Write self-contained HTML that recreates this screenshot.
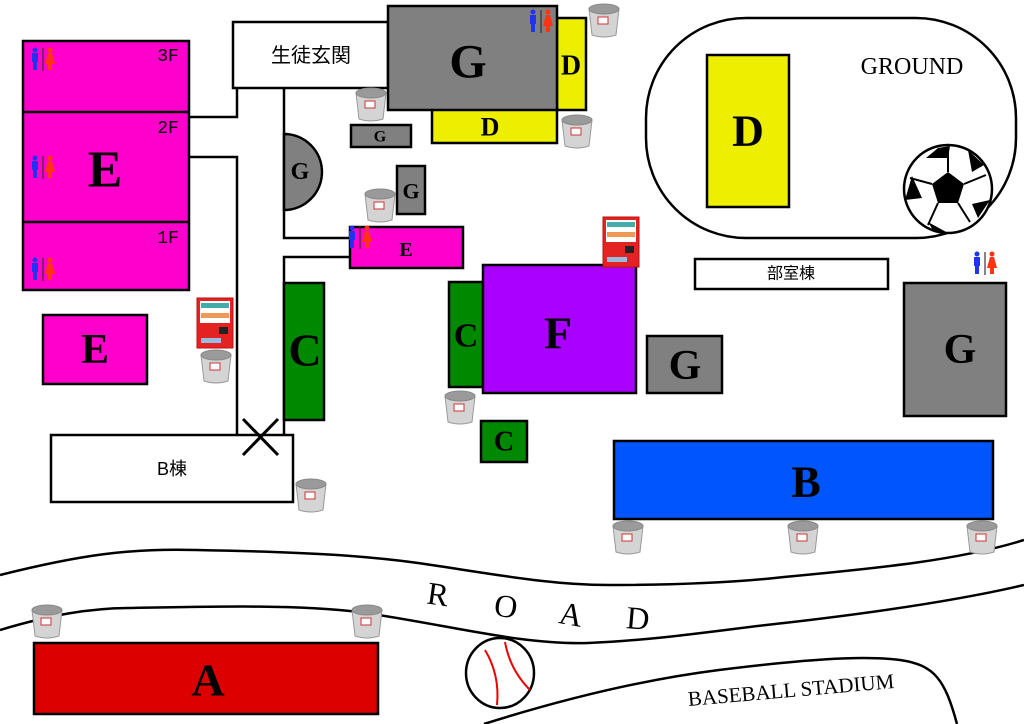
<!DOCTYPE html>
<html><head><meta charset="utf-8"><style>
html,body{margin:0;padding:0;background:#fff}
svg{display:block}
.L{font-family:"Liberation Serif",serif;font-weight:bold;text-anchor:middle;dominant-baseline:central;fill:#000}
.N{font-family:"Liberation Serif",serif;font-weight:normal;text-anchor:middle;dominant-baseline:central;fill:#000}
.J{font-family:"Liberation Sans","Noto Sans CJK JP",sans-serif;text-anchor:middle;dominant-baseline:central;fill:#000}
.M{font-family:"Liberation Mono",monospace;text-anchor:middle;dominant-baseline:central;fill:#000}
</style></head><body>
<svg width="1024" height="724" viewBox="0 0 1024 724" xmlns="http://www.w3.org/2000/svg">
<defs>
<g id="tc">
<path d="M-15,-12 L15,-12 L12,14 Q0,18 -12,14 Z" fill="#d4d4d4" stroke="#999" stroke-width="1"/>
<ellipse cx="0" cy="-12" rx="15" ry="5" fill="#9a9a9a" stroke="#888"/>
<rect x="-6" y="-4" width="10" height="7" fill="#fff" stroke="#c33" stroke-width="1"/>
</g>
<g id="wc">
<circle cx="-8" cy="-10" r="2.5" fill="#2233ee"/>
<rect x="-11" y="-7" width="6" height="9" fill="#2233ee"/>
<rect x="-10" y="2" width="4" height="8" fill="#2233ee"/>
<line x1="0" y1="-12" x2="0" y2="11" stroke="#333" stroke-width="1.2"/>
<circle cx="7" cy="-10" r="2.5" fill="#ff3311"/>
<path d="M5,-7 L9,-7 L12,4 L2,4 Z" fill="#ff3311"/>
<rect x="5" y="4" width="4" height="6" fill="#ff3311"/>
</g>
<g id="vm">
<rect x="0" y="0" width="36" height="50" fill="#e32222" stroke="#b11"/>
<rect x="3" y="3" width="30" height="22" fill="#fff"/>
<rect x="4" y="5" width="28" height="5" fill="#4aa"/>
<rect x="4" y="15" width="28" height="5" fill="#e95"/>
<rect x="22" y="29" width="9" height="7" fill="#222"/>
<rect x="4" y="40" width="20" height="5" fill="#9bd"/>
</g>
</defs>
<g stroke="#000" stroke-width="2.5" fill="none">
<polyline points="189,117 237,117 237,88"/>
<polyline points="189,157 237,157 237,435"/>
<polyline points="284,88 284,238 350,238"/>
<polyline points="350,257 284,257 284,435"/>
<path d="M0,575 C80,555 130,548 196,550 C300,552 360,555 418,563 C500,575 550,585 608,585 C680,585 740,582 784,577 C880,568 960,560 1024,540"/>
<path d="M0,630 C50,615 90,608 131,608 C230,606 300,605 359,612 C450,625 520,645 588,643 C660,640 720,630 784,623 C880,612 960,600 1024,585"/>
<path d="M484,724 C560,700 640,680 719,670 C800,660 860,655 900,660 C935,665 945,680 957,724"/>
<rect x="646" y="18" width="370" height="220" rx="100" ry="100"/>
</g>
<g stroke="#000" stroke-width="2.5">
<rect x="23" y="41" width="166" height="249" fill="#ff00cc"/>
<line x1="23" y1="112" x2="189" y2="112"/>
<line x1="23" y1="222" x2="189" y2="222"/>
<rect x="233" y="22" width="155" height="66" fill="#fff"/>
<path d="M284,134 A38,38 0 0 1 284,210 Z" fill="#808080"/>
<rect x="557" y="18" width="29" height="92" fill="#eeee00"/>
<rect x="432" y="108" width="125" height="35" fill="#eeee00"/>
<rect x="388" y="6" width="169" height="104" fill="#808080"/>
<rect x="351" y="125" width="60" height="22" fill="#808080"/>
<rect x="397" y="166" width="28" height="48" fill="#808080"/>
<rect x="350" y="227" width="113" height="41" fill="#ff00cc"/>
<rect x="284" y="283" width="40" height="137" fill="#008800"/>
<rect x="449" y="282" width="34" height="105" fill="#008800"/>
<rect x="483" y="265" width="153" height="128" fill="#aa00ff"/>
<rect x="647" y="336" width="75" height="57" fill="#808080"/>
<rect x="481" y="421" width="46" height="41" fill="#008800"/>
<rect x="707" y="55" width="82" height="152" fill="#eeee00"/>
<rect x="695" y="259" width="193" height="30" fill="#fff"/>
<rect x="904" y="283" width="102" height="133" fill="#808080"/>
<rect x="614" y="441" width="379" height="78" fill="#0055ff"/>
<rect x="43" y="315" width="104" height="69" fill="#ff00cc"/>
<rect x="51" y="435" width="242" height="67" fill="#fff"/>
<rect x="34" y="643" width="344" height="71" fill="#dd0000"/>
</g>
<g stroke="#000" stroke-width="3">
<line x1="243" y1="419" x2="278" y2="455"/><line x1="278" y1="419" x2="243" y2="455"/>
</g>
<g>
<circle cx="948" cy="189" r="44" fill="#fff" stroke="#000" stroke-width="2.5"/>
<polygon points="948,172 964,184 958,203 938,203 932,184" fill="#000"/>
<path d="M926,158 L938,148 L950,146 L948,158 Z" fill="#000"/>
<path d="M968,150 L984,165 L972,172 Z" fill="#000"/>
<path d="M905,200 L912,176 L922,198 Z" fill="#000"/>
<path d="M990,200 L978,218 L972,204 Z" fill="#000"/>
<path d="M928,222 L948,233 L934,232 Z" fill="#000"/>
<g stroke="#000" stroke-width="2"><line x1="948" y1="172" x2="948" y2="147"/><line x1="932" y1="184" x2="910" y2="178"/><line x1="964" y1="184" x2="986" y2="175"/><line x1="938" y1="203" x2="928" y2="225"/><line x1="958" y1="203" x2="970" y2="222"/></g>
</g>
<ellipse cx="500" cy="673" rx="34" ry="35" fill="#fff" stroke="#000" stroke-width="2.5"/>
<g stroke="#e00" stroke-width="2" fill="none">
<path d="M485,650 Q500,675 497,705"/><path d="M505,642 Q510,670 530,690"/>
</g>
<text class="L" x="105" y="170" font-size="52">E</text>
<text class="M" x="168" y="57" font-size="18">3F</text>
<text class="M" x="168" y="129" font-size="18">2F</text>
<text class="M" x="168" y="239" font-size="18">1F</text>
<text class="J" x="311" y="56" font-size="20">生徒玄関</text>
<text class="L" x="468" y="62" font-size="48">G</text>
<text class="L" x="571" y="66" font-size="28">D</text>
<text class="L" x="490" y="127" font-size="26">D</text>
<text class="L" x="380" y="137" font-size="16">G</text>
<text class="L" x="411" y="191" font-size="22">G</text>
<text class="L" x="300" y="172" font-size="24">G</text>
<text class="L" x="406" y="250" font-size="20">E</text>
<text class="L" x="305" y="350" font-size="46">C</text>
<text class="L" x="466" y="336" font-size="34">C</text>
<text class="L" x="558" y="333" font-size="46">F</text>
<text class="L" x="685" y="366" font-size="42">G</text>
<text class="L" x="504" y="442" font-size="28">C</text>
<text class="L" x="748" y="131" font-size="44">D</text>
<text class="N" x="912" y="67" font-size="24">GROUND</text>
<text class="J" x="791" y="274" font-size="16">部室棟</text>
<text class="L" x="960" y="350" font-size="42">G</text>
<text class="L" x="806" y="482" font-size="44">B</text>
<text class="L" x="95" y="350" font-size="42">E</text>
<text class="J" x="172" y="469" font-size="18">B棟</text>
<text class="L" x="208" y="680" font-size="46">A</text>
<text class="N" x="438" y="594" font-size="32" transform="rotate(8 438 594)">R</text>
<text class="N" x="506" y="606" font-size="32" transform="rotate(8 506 606)">O</text>
<text class="N" x="571" y="614" font-size="32" transform="rotate(10 571 614)">A</text>
<text class="N" x="638" y="618" font-size="32" transform="rotate(5 638 618)">D</text>
<text class="N" x="791" y="690" font-size="21" transform="rotate(-5 791 690)">BASEBALL STADIUM</text>
<use href="#wc" x="43" y="60"/><use href="#wc" x="43" y="168"/><use href="#wc" x="43" y="270"/>
<use href="#wc" x="541" y="22"/><use href="#wc" x="360" y="238"/><use href="#wc" x="985" y="264"/>
<use href="#vm" x="197" y="298"/><use href="#vm" x="603" y="217"/>
<use href="#tc" x="604" y="21"/><use href="#tc" x="371" y="105"/><use href="#tc" x="577" y="132"/>
<use href="#tc" x="380" y="206"/><use href="#tc" x="216" y="367"/><use href="#tc" x="460" y="408"/>
<use href="#tc" x="311" y="496"/><use href="#tc" x="628" y="538"/><use href="#tc" x="803" y="538"/>
<use href="#tc" x="982" y="538"/><use href="#tc" x="47" y="622"/><use href="#tc" x="367" y="622"/>
</svg>
</body></html>
